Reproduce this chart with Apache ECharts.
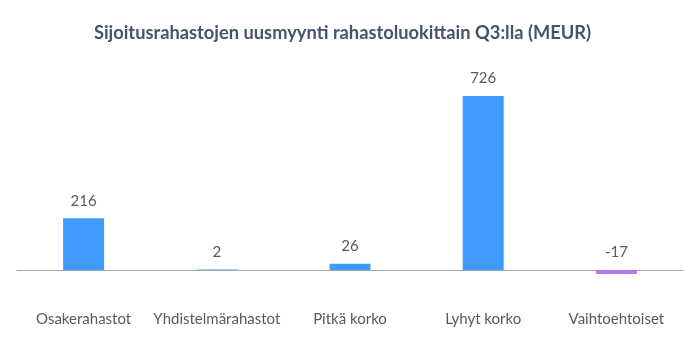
<!DOCTYPE html>
<html><head><meta charset="utf-8">
<script src="https://cdn.jsdelivr.net/npm/echarts@6/dist/echarts.min.js"></script>
<style>html,body{margin:0;padding:0;background:#fff}#c{width:685px;height:355px}</style>
</head><body><div id="c"></div>
<script>
var categories = ['Osakerahastot','Yhdistelmärahastot','Pitkä korko','Lyhyt korko','Vaihtoehtoiset'];
var values = [216, 2, 26, 726, -17];
var colors = ['#3f9bff','#3f9bff','#3f9bff','#3f9bff','#b876ea'];
var chart = echarts.init(document.getElementById('c'));
chart.setOption({
  animation:false,
  title:{text:'Sijoitusrahastojen uusmyynti rahastoluokittain Q3:lla (MEUR)',left:'center',top:19,
    textStyle:{fontFamily:'Lato',fontSize:18.3,fontWeight:'bold',color:'#44546a'}},
  grid:{left:17,right:2,top:78.2,bottom:61},
  xAxis:{type:'category',data:categories,
    axisLine:{lineStyle:{color:'#a6a6a6',width:1}},axisTick:{show:false},
    axisLabel:{fontFamily:'Lato',fontSize:15,color:'#595959',margin:18,interval:0}},
  yAxis:{type:'value',min:-100,max:800,show:false,splitLine:{show:false}},
  series:[{type:'bar',barWidth:41,
    data:values.map(function(v,i){return {value:v,itemStyle:{color:colors[i]}};}),
    label:{show:true,position:'top',distance:10,fontFamily:'Lato',fontSize:15,color:'#595959'}}]
});
</script></body></html>
